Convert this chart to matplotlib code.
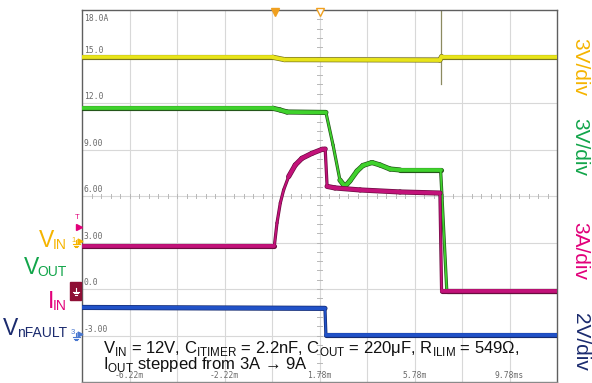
import matplotlib
matplotlib.use("Agg")
import matplotlib.pyplot as plt
from matplotlib.collections import LineCollection
from matplotlib.patches import Rectangle
import numpy as np

plt.rcParams['font.family'] = ['Liberation Sans', 'DejaVu Sans']
plt.rcParams['mathtext.fontset'] = 'custom'
plt.rcParams['mathtext.rm'] = 'Liberation Sans'

# ---- time base (ms) and screen scale (IIN scale units, 3 per division) ----
t_start, t_stop = -8.22, 11.78
y_bottom, y_top = -6.0, 18.0
x_tick_vals = [-6.22, -2.22, 1.78, 5.78, 9.78]
x_tick_text = ["-6.22m", "-2.22m", "1.78m", "5.78m", "9.78ms"]
y_label_vals = [18.0, 15.0, 12.0, 9.0, 6.0, 3.0, 0.0, -3.0]
y_label_text = ["18.0A", "15.0", "12.0", "9.00", "6.00", "3.00", "0.0", "-3.00"]

# ---- captured waveforms (time in ms, level in screen units) ----
vin_t = [-8.22, -0.18, 0.30, 6.85, 6.92, 11.78]
vin_v = [14.95, 14.95, 14.80, 14.77, 15.00, 15.00]
vin_spike_t = [6.88, 6.88]
vin_spike_v = [18.0, 13.2]

vout_t = [-8.22, -0.18, 0.12, 0.41, 2.05, 2.35, 2.64, 2.85, 3.06, 3.36,
          3.61, 3.99, 4.33, 4.75, 5.17, 6.88, 7.14, 11.78]
vout_v = [11.66, 11.66, 11.55, 11.42, 11.39, 9.29, 7.03, 6.61, 6.97, 7.61,
          7.97, 8.16, 8.00, 7.74, 7.68, 7.68, -0.13, -0.13]

iin_t = [-8.22, -0.12, -0.01, 0.13, 0.27, 0.48, 0.76, 1.04, 1.46, 1.89,
         2.02, 2.10, 2.43, 3.49, 5.17, 6.85, 6.92, 11.78]
iin_v = [2.80, 2.80, 4.26, 5.55, 6.39, 7.25, 8.00, 8.43, 8.75, 9.01,
         9.03, 6.62, 6.52, 6.39, 6.26, 6.19, -0.13, -0.13]

nfault_t = [-8.22, 2.01, 2.05, 11.78]
nfault_v = [-1.19, -1.25, -2.97, -2.97]

# ---- colours ----
c_vin_txt, c_vout_txt, c_iin_txt, c_nf_txt = "#f5b400", "#12a54a", "#e2007a", "#1b2b6e"
c_vin, c_vin_edge = "#e8e41a", "#7a7620"
c_vout, c_vout_edge = "#3fd22c", "#24561a"
c_iin, c_iin_edge = "#c3127a", "#6a0c40"
c_nf, c_nf_edge = "#2152c8", "#142a70"

W, H = 592, 383
fig = plt.figure(figsize=(W / 100, H / 100), dpi=100)
ax = fig.add_axes([82 / W, 1 - 382 / H, 475 / W, 372 / H])
ax.set_xlim(t_start, t_stop)
ax.set_ylim(y_bottom, y_top)
ax.set_xticks([])
ax.set_yticks([])
for s in ax.spines.values():
    s.set_color("#5f5f5f")
    s.set_linewidth(1.0)
ax.spines['bottom'].set_color("#8a8a8a")

# graticule
for k in range(1, 10):
    ax.axvline(t_start + 2 * k, color="#d8d8d8", lw=0.8, zorder=0)
for k in range(1, 8):
    ax.axhline(y_bottom + 3 * k, color="#d8d8d8", lw=0.8, zorder=0)

# minor ticks along the centre lines
t_center, v_center = t_start + 10.0, 6.0
for tt in np.arange(t_start, t_stop + 1e-6, 0.4):
    ax.plot([tt, tt], [v_center - 0.13, v_center + 0.13], color="#b8b8b8", lw=0.7, zorder=0)
for vv in np.arange(y_bottom, y_top + 1e-6, 0.6):
    ax.plot([t_center - 0.09, t_center + 0.09], [vv, vv], color="#b8b8b8", lw=0.7, zorder=0)

px_per_ms = 475 / (t_stop - t_start)
px_per_unit = 372 / (y_top - y_bottom)


def trace(tx, vy, col, edge, z):
    # flat parts show a wide noise band, fast edges a thin stroke
    tx, vy = np.asarray(tx, float), np.asarray(vy, float)
    segs = [[(tx[i], vy[i]), (tx[i + 1], vy[i + 1])] for i in range(len(tx) - 1)]
    widths = []
    for i in range(len(tx) - 1):
        dx = abs(tx[i + 1] - tx[i]) * px_per_ms
        dy = abs(vy[i + 1] - vy[i]) * px_per_unit
        widths.append(1.3 if dy > 2.5 * dx else 2.7)
    widths = np.array(widths)
    ax.add_collection(LineCollection(segs, linewidths=widths + 1.0, colors=edge,
                                     capstyle="round", joinstyle="round", zorder=z))
    ax.add_collection(LineCollection(segs, linewidths=widths, colors=col,
                                     capstyle="round", joinstyle="round", zorder=z + 0.5))


ax.plot(vin_spike_t, vin_spike_v, color="#8c8a60", lw=0.9, zorder=2)
trace(vin_t, vin_v, c_vin, c_vin_edge, 3)
trace(vout_t, vout_v, c_vout, c_vout_edge, 4)
trace(iin_t, iin_v, c_iin, c_iin_edge, 5)
trace(nfault_t, nfault_v, c_nf, c_nf_edge, 6)

# screen read-outs
mono = dict(family="DejaVu Sans Mono", fontsize=5.8, color="#6a6a6a")
for val, txt in zip(y_label_vals, y_label_text):
    if val == y_top:
        ax.text(t_start + 0.07, val - 0.25, txt, va="top", ha="left", zorder=7, **mono)
    else:
        ax.text(t_start + 0.07, val + 0.12, txt, va="bottom", ha="left", zorder=7, **mono)
for val, txt in zip(x_tick_vals, x_tick_text):
    ax.text(val, y_bottom + 0.12, txt, va="bottom", ha="center", zorder=7, **mono)

# trigger markers on the top edge
ax.plot([-0.08], [17.85], marker="v", ms=5.5, color="#f0a020", clip_on=False, zorder=8)
ax.plot([1.78], [17.85], marker="v", ms=5.5, mfc="white", mec="#f0a020", mew=1.0,
        clip_on=False, zorder=8)


def fx(x):
    return x / W


def fy(y):
    return 1 - y / H


def ground(x, y, col, s=1.0):
    # small earth symbol drawn in pixel units
    fig.lines.append(plt.Line2D([fx(x), fx(x)], [fy(y - 4 * s), fy(y)], color=col, lw=0.8,
                                transform=fig.transFigure))
    for i, hw in enumerate([3.5, 2.3, 1.1]):
        yy = y + i * 1.6 * s
        fig.lines.append(plt.Line2D([fx(x - hw * s), fx(x + hw * s)], [fy(yy), fy(yy)],
                                    color=col, lw=0.8, transform=fig.transFigure))


# channel markers at the left edge
fig.text(fx(77), fy(217), "T", color=c_iin_txt, fontsize=5.5, ha="center", va="center")
fig.lines.append(plt.Line2D([fx(79)], [fy(227)], marker=">", ms=4, color=c_iin_txt,
                            transform=fig.transFigure))
fig.text(fx(74), fy(240), "1", color=c_vin_txt, fontsize=5.5, ha="center", va="center")
ground(76, 244, c_vin_txt)
fig.lines.append(plt.Line2D([fx(80)], [fy(241)], marker=">", ms=3.5, color=c_vin_txt,
                            transform=fig.transFigure))
fig.patches.append(Rectangle((fx(70), fy(300)), 11 / W, 18 / H, color="#8e0f35",
                             transform=fig.transFigure))
ground(76, 292, "white", 0.9)
fig.text(fx(73), fy(332), "3", color="#4a78d0", fontsize=5.5, ha="center", va="center")
ground(76, 337, "#4a78d0")
fig.lines.append(plt.Line2D([fx(80)], [fy(334)], marker=">", ms=3.5, color="#4a78d0",
                            transform=fig.transFigure))

# channel names: large letter with a smaller, slightly lowered subscript,
# right-aligned at x = 67 px
renderer = fig.canvas.get_renderer()


def channel_name(main, sub, baseline, col):
    st = fig.text(fx(67), fy(baseline + 2), sub, color=col, fontsize=10,
                  ha="right", va="baseline")
    wb = st.get_window_extent(renderer=renderer)
    fig.text((wb.x0 + 1.5) / W, fy(baseline), main, color=col, fontsize=16.5,
             ha="right", va="baseline")


channel_name("V", "IN", 247, c_vin_txt)
channel_name("V", "OUT", 274, c_vout_txt)
channel_name("I", "IN", 308, c_iin_txt)
channel_name("V", "nFAULT", 335, c_nf_txt)

# vertical scale legends
rot = dict(fontsize=15, rotation=-90, ha="center", va="center")
fig.text(fx(580), fy(67), "3V/div", color=c_vin_txt, **rot)
fig.text(fx(580), fy(147), "3V/div", color=c_vout_txt, **rot)
fig.text(fx(580), fy(251), "3A/div", color=c_iin_txt, **rot)
fig.text(fx(580), fy(342), "2V/div", color=c_nf_txt, **rot)

# test conditions
cond = dict(fontsize=12, color="#111111", ha="left", va="baseline")
fig.text(fx(103), fy(353),
         r"V$_\mathregular{IN}$ = 12V, C$_\mathregular{ITIMER}$ = 2.2nF, "
         r"C$_\mathregular{OUT}$ = 220μF, R$_\mathregular{ILIM}$ = 549Ω,", **cond)
fig.text(fx(103), fy(369), r"I$_\mathregular{OUT}$ stepped from 3A → 9A", **cond)

fig.savefig("out.png", dpi=100)
